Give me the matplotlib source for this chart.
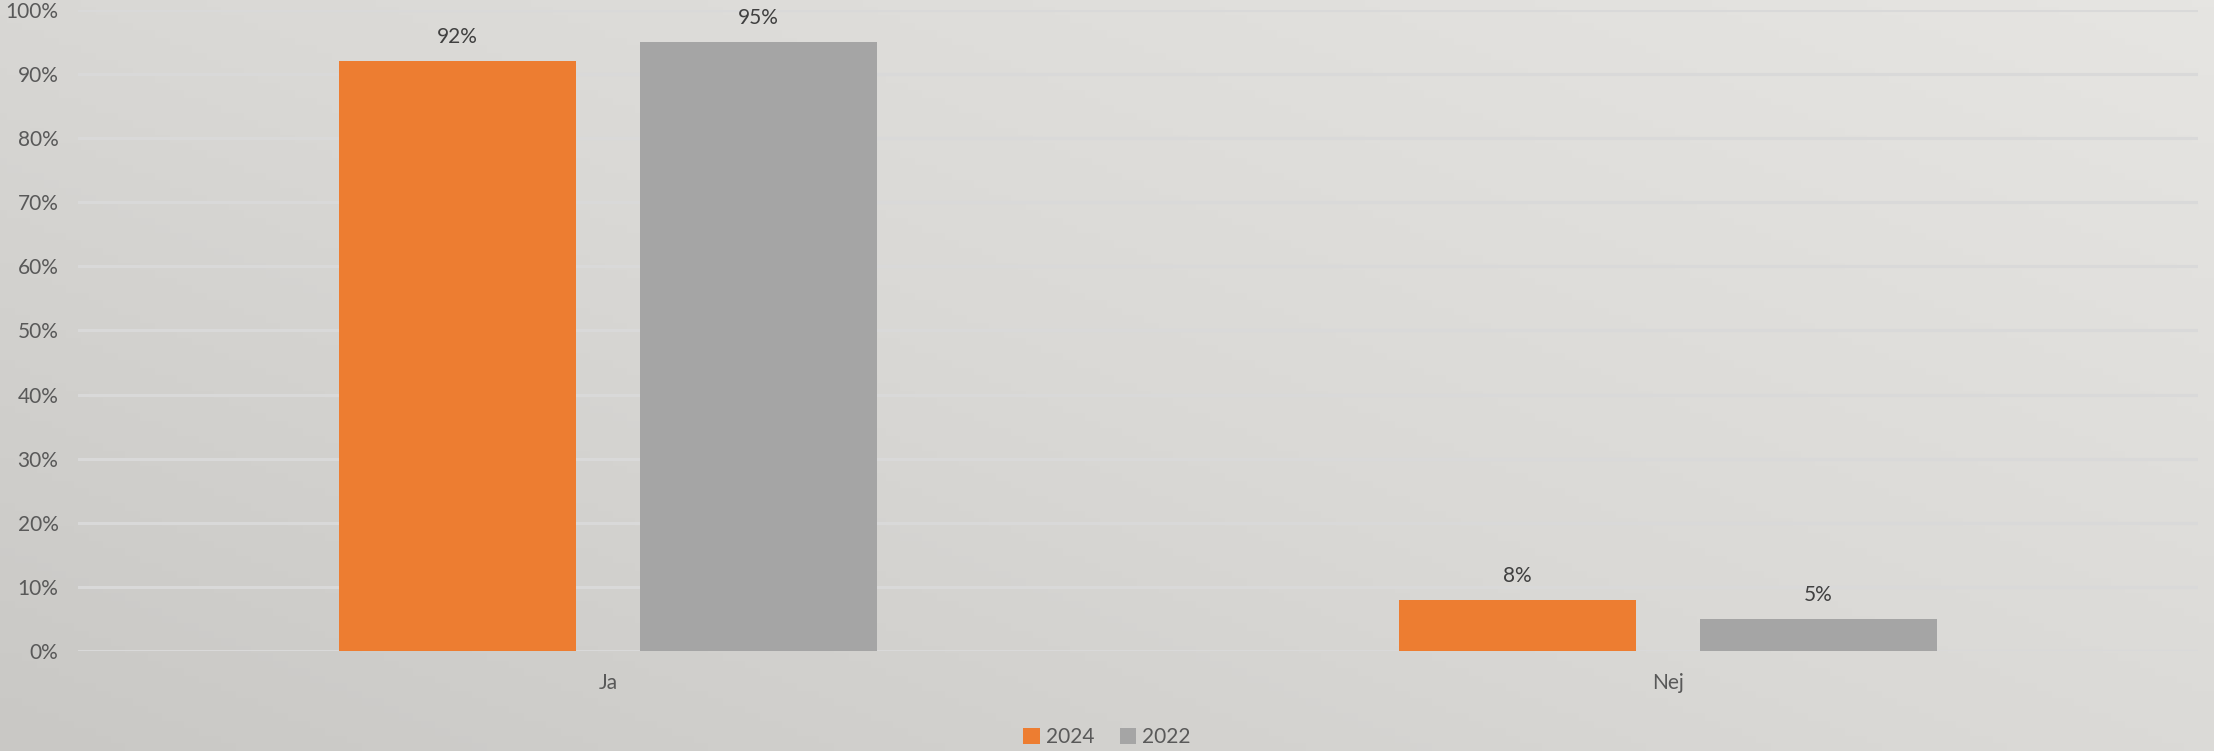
import matplotlib
matplotlib.use("Agg")
import matplotlib.pyplot as plt
from matplotlib.colors import LinearSegmentedColormap
import numpy as np

# data
categories = ["Ja", "Nej"]
series_names = ["2024", "2022"]
values_2024 = [92, 8]
values_2022 = [95, 5]
labels_2024 = ["92%", "8%"]
labels_2022 = ["95%", "5%"]
ytick_labels = ["0%", "10%", "20%", "30%", "40%", "50%", "60%", "70%", "80%", "90%", "100%"]

orange = "#ED7D31"
grey = "#A5A5A5"
text_col = "#595959"

plt.rcParams["font.family"] = ["Lato", "DejaVu Sans"]

fig = plt.figure(figsize=(22.14, 7.51), dpi=100)

# paper-like background: lighter top right, darker bottom left
bg = fig.add_axes([0, 0, 1, 1])
gx, gy = np.meshgrid(np.linspace(0, 1, 300), np.linspace(0, 1, 100))
shade = 0.55 * gx + 0.45 * (1 - gy)
cmap = LinearSegmentedColormap.from_list("paper", ["#C9C8C5", "#DAD9D6", "#E6E5E2"])
bg.imshow(shade, cmap=cmap, aspect="auto", extent=[0, 1, 0, 1], origin="upper")
bg.axis("off")

ax = fig.add_axes([0.0352, 0.1332, 0.9576, 0.8535])
ax.patch.set_alpha(0)

x = np.arange(len(categories))
w = 0.2235
off = w / 2 + 0.03
b1 = ax.bar(x - off, values_2024, w, color=orange, label=series_names[0], zorder=3)
b2 = ax.bar(x + off, values_2022, w, color=grey, label=series_names[1], zorder=3)

for bars, labs in [(b1, labels_2024), (b2, labels_2022)]:
    for b, t in zip(bars, labs):
        ax.text(b.get_x() + b.get_width() / 2, b.get_height() + 2.2, t,
                ha="center", va="bottom", fontsize=15, color="#404040")

ax.set_xlim(-0.5, 1.5)
ax.set_ylim(0, 100)
ax.set_yticks(np.arange(0, 101, 10))
ax.set_yticklabels(ytick_labels)
ax.set_xticks(x)
ax.set_xticklabels(categories)
ax.tick_params(axis="both", length=0, labelsize=15, labelcolor=text_col)
ax.tick_params(axis="y", pad=14)
ax.tick_params(axis="x", pad=16)
ax.grid(axis="y", color="#D9D9D9", linewidth=2.2, zorder=0)
for s in ax.spines.values():
    s.set_visible(False)

fig.legend(handles=[b1, b2], loc="lower center", bbox_to_anchor=(0.5, -0.02), ncol=2,
           frameon=False, fontsize=15, labelcolor=text_col, handlelength=0.8,
           handleheight=0.8, handletextpad=0.3, columnspacing=1.2)

fig.savefig("out.png", dpi=100)
